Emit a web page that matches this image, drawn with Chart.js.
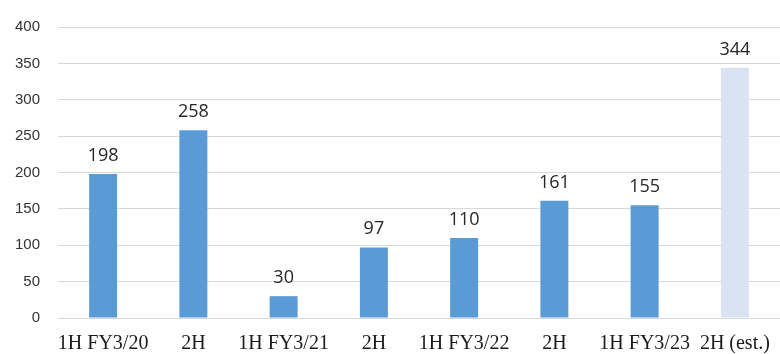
<!DOCTYPE html>
<html>
<head>
<meta charset="utf-8">
<script src="https://cdn.jsdelivr.net/npm/chart.js@4/dist/chart.umd.min.js"></script>
<style>
  html, body { margin: 0; padding: 0; background: #ffffff; }
  #wrap { width: 780px; height: 354px; position: relative; }
</style>
</head>
<body>
<div id="wrap"><canvas id="c"></canvas></div>
<script>
// Half-year figures
const periods = ['1H FY3/20', '2H', '1H FY3/21', '2H', '1H FY3/22', '2H', '1H FY3/23', '2H (est.)'];
const values = [198, 258, 30, 97, 110, 161, 155, 344];
const isEstimate = [false, false, false, false, false, false, false, true];
const yTicks = [0, 50, 100, 150, 200, 250, 300, 350, 400];

const actualColor = '#5B9BD5';
const estimateColor = '#DAE3F3';

// Writes each bar's value just above it
const valueLabels = {
  id: 'valueLabels',
  afterDatasetsDraw(chart) {
    const ctx = chart.ctx;
    const meta = chart.getDatasetMeta(0);
    ctx.save();
    ctx.font = '18px "Open Sans", "Noto Sans", sans-serif';
    ctx.fillStyle = '#262626';
    ctx.textAlign = 'center';
    ctx.textBaseline = 'alphabetic';
    meta.data.forEach((bar, i) => {
      ctx.fillText(String(values[i]), bar.x, bar.y - 13);
    });
    ctx.restore();
  }
};

new Chart(document.getElementById('c'), {
  type: 'bar',
  data: {
    labels: periods,
    datasets: [{
      data: values,
      backgroundColor: values.map((v, i) => isEstimate[i] ? estimateColor : actualColor),
      borderWidth: 0,
      barPercentage: 0.31,
      categoryPercentage: 1.0
    }]
  },
  options: {
    responsive: true,
    maintainAspectRatio: false,
    animation: false,
    layout: { padding: { top: 23, right: 0, left: 0, bottom: 0 } },
    plugins: {
      legend: { display: false },
      tooltip: { enabled: false }
    },
    scales: {
      x: {
        grid: { display: false, drawTicks: false },
        border: { display: false },
        ticks: {
          color: '#1a1a1a',
          font: { family: '"Liberation Serif", "Times New Roman", serif', size: 20 },
          padding: 14,
          maxRotation: 0,
          autoSkip: false
        },
        afterFit(scale) {
          scale.height = 36;
          scale.paddingLeft = 0;
          scale.paddingRight = 0;
        }
      },
      y: {
        min: 0,
        max: 400,
        afterBuildTicks(scale) { scale.ticks = yTicks.map(v => ({ value: v })); },
        grid: { color: '#D9D9D9', lineWidth: 1, drawTicks: false },
        border: { display: false },
        ticks: {
          color: '#333333',
          font: { family: '"Liberation Sans", Arial, sans-serif', size: 15 },
          padding: 18
        },
        afterFit(scale) { scale.width = 58; }
      }
    }
  },
  plugins: [valueLabels]
});
</script>
</body>
</html>
